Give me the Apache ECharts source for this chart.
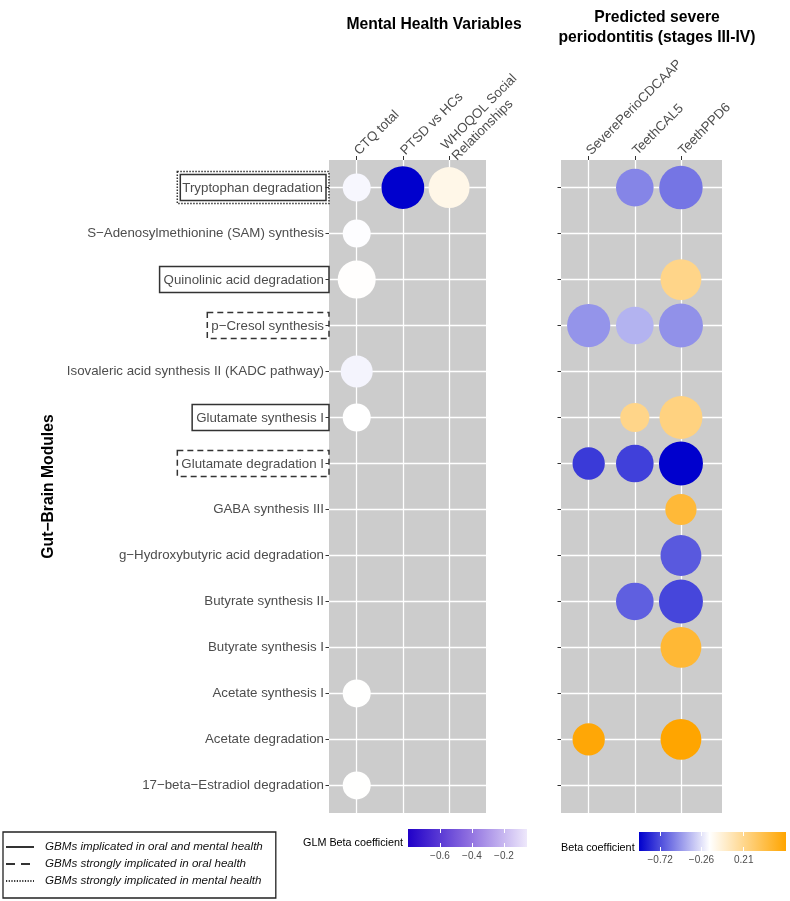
<!DOCTYPE html>
<html><head><meta charset="utf-8">
<script src="https://cdn.jsdelivr.net/npm/echarts@6/dist/echarts.min.js"></script>
<style>html,body{margin:0;padding:0;background:#fff}#c{width:790px;height:901px}</style>
</head><body><div id="c"></div>
<script>
const modules = [
  'Tryptophan degradation',
  'S−Adenosylmethionine (SAM) synthesis',
  'Quinolinic acid degradation',
  'p−Cresol synthesis',
  'Isovaleric acid synthesis II (KADC pathway)',
  'Glutamate synthesis I',
  'Glutamate degradation I',
  'GABA synthesis III',
  'g−Hydroxybutyric acid degradation',
  'Butyrate synthesis II',
  'Butyrate synthesis I',
  'Acetate synthesis I',
  'Acetate degradation',
  '17−beta−Estradiol degradation'
];
const mentalVars = ['CTQ total', 'PTSD vs HCs', 'WHOQOL Social\nRelationships'];
const perioVars = ['SeverePerioCDCAAP', 'TeethCAL5', 'TeethPPD6'];

// [module, variable, beta coefficient, significance]
const mentalPoints = [
  ['Tryptophan degradation', 'CTQ total', -0.024, 1.0],
  ['Tryptophan degradation', 'PTSD vs HCs', -0.80, 3.76],
  ['Tryptophan degradation', 'WHOQOL Social\nRelationships', 0.072, 3.44],
  ['S−Adenosylmethionine (SAM) synthesis', 'CTQ total', -0.005, 1.0],
  ['Quinolinic acid degradation', 'CTQ total', 0.005, 2.88],
  ['Isovaleric acid synthesis II (KADC pathway)', 'CTQ total', -0.035, 1.75],
  ['Glutamate synthesis I', 'CTQ total', 0.0, 1.0],
  ['Acetate synthesis I', 'CTQ total', 0.004, 1.0],
  ['17−beta−Estradiol degradation', 'CTQ total', 0.004, 1.0]
];
const perioPoints = [
  ['Tryptophan degradation', 'TeethCAL5', -0.53, 2.8],
  ['Tryptophan degradation', 'TeethPPD6', -0.58, 3.9],
  ['Quinolinic acid degradation', 'TeethPPD6', 0.24, 3.4],
  ['p−Cresol synthesis', 'SeverePerioCDCAAP', -0.48, 3.85],
  ['p−Cresol synthesis', 'TeethCAL5', -0.38, 2.8],
  ['p−Cresol synthesis', 'TeethPPD6', -0.49, 4.0],
  ['Glutamate synthesis I', 'TeethCAL5', 0.24, 1.2],
  ['Glutamate synthesis I', 'TeethPPD6', 0.27, 3.8],
  ['Glutamate degradation I', 'SeverePerioCDCAAP', -0.77, 1.8],
  ['Glutamate degradation I', 'TeethCAL5', -0.75, 2.8],
  ['Glutamate degradation I', 'TeethPPD6', -0.955, 4.0],
  ['GABA synthesis III', 'TeethPPD6', 0.50, 1.6],
  ['g−Hydroxybutyric acid degradation', 'TeethPPD6', -0.67, 3.4],
  ['Butyrate synthesis II', 'TeethCAL5', -0.65, 2.8],
  ['Butyrate synthesis II', 'TeethPPD6', -0.73, 4.0],
  ['Butyrate synthesis I', 'TeethPPD6', 0.51, 3.4],
  ['Acetate degradation', 'SeverePerioCDCAAP', 0.66, 1.8],
  ['Acetate degradation', 'TeethPPD6', 0.68, 3.4]
];
const mentalBetaRange = [-0.8, 0.8];
const perioBetaRange = [-0.955, 0.68];
const mentalBarRange = [-0.8, -0.056];
const perioBarRange = [-0.955, 0.68];
const mentalBarTicks = [-0.6, -0.4, -0.2];
const perioBarTicks = [-0.72, -0.26, 0.21];
const significanceRange = [1, 4];

const boxedSolid = ['Quinolinic acid degradation', 'Glutamate synthesis I'];
const boxedDashed = ['p−Cresol synthesis', 'Glutamate degradation I'];
const boxedDouble = ['Tryptophan degradation'];
const legendNames = [
  'GBMs implicated in oral and mental health',
  'GBMs strongly implicated in oral health',
  'GBMs strongly implicated in mental health'
];

const FONT = "'Liberation Sans', Arial, Helvetica, sans-serif";
const BLUE = '#0000CD', ORANGE = '#FFA500';
const rowIdx = {};
modules.forEach((m, i) => { rowIdx[m] = i; });
const toData = (pts, vars) => pts.map(p => [vars.indexOf(p[1]), rowIdx[p[0]], p[2], p[3]]);
const rowValues = modules.map((m, i) => i);
const colValues = mentalVars.map((m, i) => i);
const minus = s => String(s).replace('-', '−');

const labelTxt = { fontSize: 13.3, color: '#4D4D4D', fontFamily: FONT };
const rich = {
  plain: Object.assign({ padding: [0, 5, 0, 0] }, labelTxt),
  solid: Object.assign({ borderColor: '#333', borderWidth: 1.5, padding: [7, 5, 6, 4] }, labelTxt),
  solidIn: Object.assign({ borderColor: '#333', borderWidth: 1.5, padding: [7, 3, 6, 2] }, labelTxt),
  dashed: Object.assign({ borderColor: '#333', borderWidth: 1.5, borderType: [6, 4], padding: [7, 5, 6, 4] }, labelTxt)
};

function panelX(gridIndex, vars, max) {
  return {
    gridIndex, type: 'value', position: 'top', min: -0.6, max,
    axisLine: { show: false, onZero: false },
    axisTick: { customValues: colValues, length: 4, lineStyle: { color: '#333', width: 1 } },
    axisLabel: { customValues: colValues, formatter: v => vars[Math.round(v)], rotate: -45, margin: 7,
      fontSize: 13.3, color: '#4D4D4D', fontFamily: FONT, lineHeight: 15 },
    splitLine: { show: true, lineStyle: { color: '#FFFFFF', width: 1.3 } }
  };
}
function panelY(gridIndex) {
  return {
    gridIndex, type: 'value', inverse: true, position: 'left', min: -0.6, max: modules.length - 0.4,
    axisLine: { show: false, onZero: false },
    axisTick: { customValues: rowValues, length: 3.5, lineStyle: { color: '#333', width: 1 } },
    axisLabel: { show: false },
    splitLine: { show: true, lineStyle: { color: '#FFFFFF', width: 1.3 } }
  };
}
function barX(gridIndex, range, ticks, pos, digits) {
  return {
    gridIndex, type: 'value', position: pos, min: range[0], max: range[1], z: 10,
    axisLine: { show: false, onZero: false },
    axisTick: { customValues: ticks, inside: true, length: 4, lineStyle: { color: '#FFFFFF', width: 1 } },
    axisLabel: { show: pos === 'bottom', customValues: ticks, margin: 4, fontSize: 10, color: '#4D4D4D',
      fontFamily: FONT, formatter: v => minus(v.toFixed(digits)) },
    splitLine: { show: false }
  };
}
function barSeries(xi, yi, range, stops) {
  return {
    type: 'custom', xAxisIndex: xi, yAxisIndex: yi, z: 1, silent: true,
    data: [[range[0], 0]],
    renderItem: (params) => {
      const cs = params.coordSys;
      return { type: 'rect', shape: { x: cs.x, y: cs.y, width: cs.width, height: cs.height },
        style: { fill: new echarts.graphic.LinearGradient(0, 0, 1, 0, stops) } };
    }
  };
}

const yMain = panelY(0);
yMain.axisLabel = {
  show: true, customValues: rowValues.slice(1), margin: 0, rich,
  formatter: v => {
    const n = modules[Math.round(v)];
    if (boxedDashed.includes(n)) return '{dashed|' + n + '}';
    if (boxedSolid.includes(n)) return '{solid|' + n + '}';
    return '{plain|' + n + '}';
  }
};
yMain.name = 'Gut−Brain Modules';
yMain.nameLocation = 'middle';
yMain.nameGap = 272;
yMain.nameRotate = 90;
yMain.nameTextStyle = { fontSize: 15.7, fontWeight: 'bold', color: '#000', fontFamily: FONT };

const yOverlay = {
  gridIndex: 0, type: 'value', inverse: true, position: 'left', offset: 0, min: -0.6, max: modules.length - 0.4,
  axisLine: { show: false, onZero: false }, axisTick: { show: false }, splitLine: { show: false },
  axisLabel: {
    show: true, customValues: [rowIdx[boxedDouble[0]]], margin: 0, rich,
    borderType: [1.5, 1.5], borderColor: '#333', borderWidth: 1.5, padding: [3, 3, 3, 3],
    formatter: v => '{solidIn|' + modules[Math.round(v)] + '}'
  }
};

const hiddenMark = { color: 'rgba(0,0,0,0)', borderWidth: 0 };

const option = {
  animation: false,
  backgroundColor: '#FFFFFF',
  textStyle: { fontFamily: FONT },
  title: [
    { text: 'Mental Health Variables', left: 434, top: 17, padding: 0, textAlign: 'center',
      textStyle: { fontSize: 15.7, fontWeight: 'bold', color: '#000', fontFamily: FONT } },
    { text: 'Predicted severe\nperiodontitis (stages III-IV)', left: 657, top: 8, padding: 0, textAlign: 'center',
      textStyle: { fontSize: 15.7, fontWeight: 'bold', color: '#000', fontFamily: FONT, lineHeight: 20 } },
    { text: 'GLM Beta coefficient', left: 303, top: 838, padding: 0,
      textStyle: { fontSize: 10.8, fontWeight: 'normal', color: '#000', fontFamily: FONT } },
    { text: 'Beta coefficient', left: 561, top: 843, padding: 0,
      textStyle: { fontSize: 10.8, fontWeight: 'normal', color: '#000', fontFamily: FONT } }
  ],
  legend: {
    data: legendNames, orient: 'vertical', left: 3, top: 832, selectedMode: false,
    padding: [9, 13, 11, 2], itemWidth: 28, itemHeight: 12, itemGap: 5,
    borderColor: '#222', borderWidth: 1.3,
    itemStyle: hiddenMark,
    textStyle: { fontStyle: 'italic', fontSize: 11.6, color: '#111', fontFamily: FONT, padding: [0, 0, 0, 6] }
  },
  grid: [
    { left: 329, top: 160, width: 157, height: 653, show: true, backgroundColor: '#CCCCCC', borderWidth: 0 },
    { left: 561, top: 160, width: 161, height: 653, show: true, backgroundColor: '#CCCCCC', borderWidth: 0 },
    { left: 408, top: 829, width: 119, height: 18 },
    { left: 639, top: 832, width: 147, height: 19 }
  ],
  xAxis: [
    panelX(0, mentalVars, 2.8),
    panelX(1, perioVars, 2.89),
    barX(2, mentalBarRange, mentalBarTicks, 'bottom', 1),
    barX(2, mentalBarRange, mentalBarTicks, 'top', 1),
    barX(3, perioBarRange, perioBarTicks, 'bottom', 2),
    barX(3, perioBarRange, perioBarTicks, 'top', 2)
  ],
  yAxis: [
    yMain,
    yOverlay,
    panelY(1),
    { gridIndex: 2, type: 'value', min: 0, max: 1, show: false },
    { gridIndex: 3, type: 'value', min: 0, max: 1, show: false }
  ],
  visualMap: [
    { type: 'continuous', show: false, seriesIndex: 0, dimension: 2,
      min: mentalBetaRange[0], max: mentalBetaRange[1], inRange: { color: [BLUE, '#FFFFFF', ORANGE] } },
    { type: 'continuous', show: false, seriesIndex: 1, dimension: 2,
      min: perioBetaRange[0], max: perioBetaRange[1], inRange: { color: [BLUE, '#FFFFFF', ORANGE] } },
    { type: 'continuous', show: false, seriesIndex: [0, 1], dimension: 3,
      min: significanceRange[0], max: significanceRange[1], inRange: { symbolSize: [28, 44] } }
  ],
  series: [
    { type: 'scatter', xAxisIndex: 0, yAxisIndex: 0, data: toData(mentalPoints, mentalVars),
      itemStyle: { opacity: 1 }, z: 3, silent: true },
    { type: 'scatter', xAxisIndex: 1, yAxisIndex: 2, data: toData(perioPoints, perioVars),
      itemStyle: { opacity: 1 }, z: 3, silent: true },
    barSeries(2, 3, mentalBarRange, [
      { offset: 0, color: '#2000C8' }, { offset: 0.5, color: '#8C6CDF' }, { offset: 1, color: '#EEE8FB' }]),
    barSeries(4, 4, perioBarRange, [
      { offset: 0, color: BLUE }, { offset: 0.48, color: '#FFFFFF' }, { offset: 1, color: ORANGE }]),
    { type: 'line', name: legendNames[0], data: [], symbol: 'none', xAxisIndex: 0, yAxisIndex: 0,
      itemStyle: hiddenMark, lineStyle: { color: '#333', width: 1.5, type: 'solid' } },
    { type: 'line', name: legendNames[1], data: [], symbol: 'none', xAxisIndex: 0, yAxisIndex: 0,
      itemStyle: hiddenMark, lineStyle: { color: '#333', width: 2, type: [9, 6] } },
    { type: 'line', name: legendNames[2], data: [], symbol: 'none', xAxisIndex: 0, yAxisIndex: 0,
      itemStyle: hiddenMark, lineStyle: { color: '#333', width: 1.2, type: [1.2, 1.5] } }
  ]
};
const chart = echarts.init(document.getElementById('c'), null, { renderer: 'canvas' });
chart.setOption(option);
</script></body></html>
